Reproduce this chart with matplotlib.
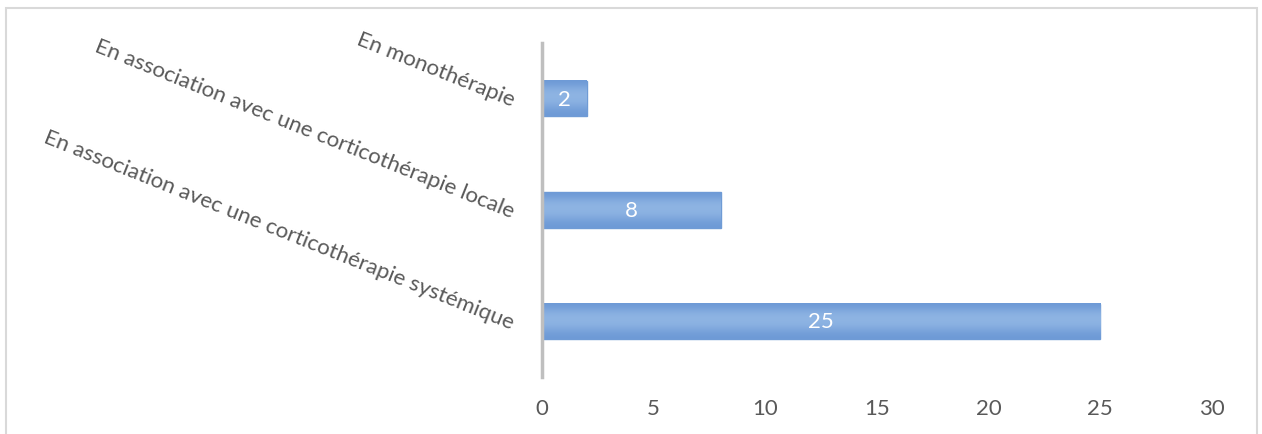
import numpy as np
import matplotlib
matplotlib.use("Agg")
import matplotlib.pyplot as plt
from matplotlib.patches import Rectangle

categories = ["En monothérapie",
              "En association avec une corticothérapie locale",
              "En association avec une corticothérapie systémique"]
values = [2, 8, 25]
xticks = [0, 5, 10, 15, 20, 25, 30]

plt.rcParams['font.family'] = ['Lato', 'DejaVu Sans']

fig = plt.figure(figsize=(12.62, 4.35), dpi=100)
ax = fig.add_axes([0.4295, 0.131, 0.5309, 0.768])

# frame around the chart
fig.patches.append(Rectangle((6 / 1262, -0.01), 1251 / 1262, 1 - 9 / 435 + 0.01,
                             transform=fig.transFigure, fill=False,
                             edgecolor="#D9D9D9", linewidth=1.5))

pos = np.arange(len(categories))
h = 0.315
bars = ax.barh(pos, values, height=h, color="#8DB3E2", edgecolor="#6F9BD5",
               linewidth=1, zorder=2)

# vertical shading on bars
grad = np.array([0.0, 0.6, 1.0, 1.0, 0.8, 0.3, 0.0]).reshape(-1, 1)
cmap = matplotlib.colors.LinearSegmentedColormap.from_list("b", ["#6E9AD6", "#8EB4E3"])
for p, v in zip(pos, values):
    ax.imshow(grad, extent=(0, v, p + h / 2, p - h / 2), cmap=cmap, aspect="auto",
              interpolation="bicubic", zorder=2)
    ax.text(v / 2, p, str(v), ha="center", va="center", color="white",
            fontsize=16, zorder=3)

ax.set_xlim(0, 30)
ax.set_ylim(2.5, -0.5)
ax.set_xticks(xticks)
ax.set_yticks(pos)
ax.set_yticklabels(categories)
ax.tick_params(axis="x", length=0, pad=15, labelsize=16, labelcolor="#595959")
ax.tick_params(axis="y", length=0, pad=20, labelsize=16, labelcolor="#595959")
plt.setp(ax.get_yticklabels(), rotation=-21.8, ha="right", rotation_mode="anchor")

for s in ["top", "right", "bottom"]:
    ax.spines[s].set_visible(False)
ax.spines["left"].set_color("#BFBFBF")
ax.spines["left"].set_linewidth(2.5)
ax.spines["left"].set_zorder(4)

fig.savefig("out.png", dpi=100)
